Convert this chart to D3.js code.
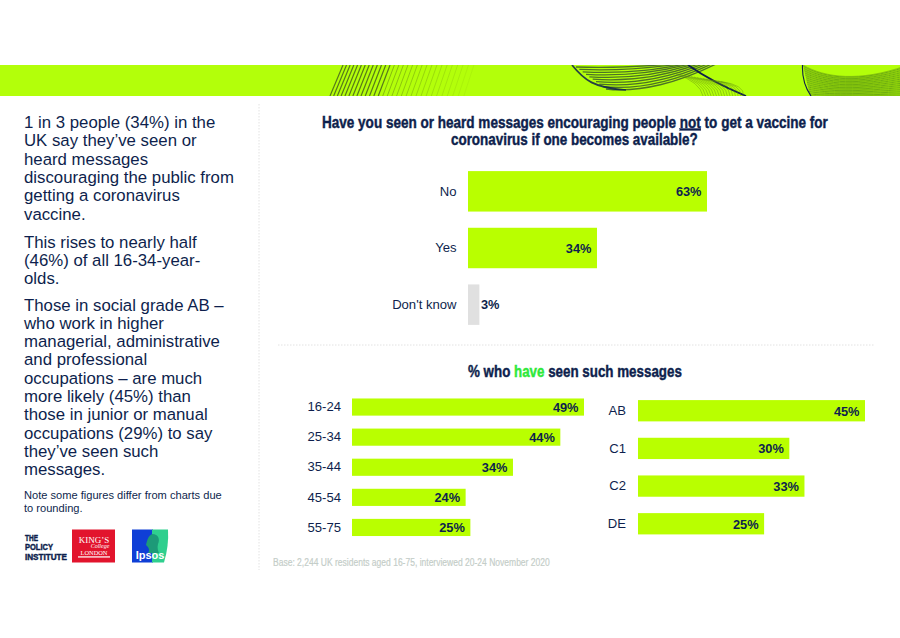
<!DOCTYPE html>
<html><head><meta charset="utf-8">
<script src="https://cdn.jsdelivr.net/npm/d3@7"></script>
<style>html,body{margin:0;padding:0;background:#fff}svg{display:block}</style>
</head><body><div id="c"></div>
<script>
// ---- data ----
const mainCats = ["No","Yes","Don't know"];
const mainVals = [63,34,3];
const ageCats = ["16-24","25-34","35-44","45-54","55-75"];
const ageVals = [49,44,34,24,25];
const gradeCats = ["AB","C1","C2","DE"];
const gradeVals = [45,30,33,25];
const para1 = ["1 in 3 people (34%) in the","UK say they’ve seen or","heard messages","discouraging the public from","getting a coronavirus","vaccine."];
const para2 = ["This rises to nearly half","(46%) of all 16-34-year-","olds."];
const para3 = ["Those in social grade AB –","who work in higher","managerial, administrative","and professional","occupations – are much","more likely (45%) than","those in junior or manual","occupations (29%) to say","they’ve seen such","messages."];
const noteLines = ["Note some figures differ from charts due","to rounding."];
const baseText = "Base: 2,244 UK residents aged 16-75, interviewed 20-24 November 2020";

const NAVY="#0e1f4d", LIME="#b9ff00", GREY="#e0e0e0";
const SANS="'Liberation Sans',Arial,sans-serif", NARROW="'Liberation Sans Narrow','Liberation Sans',sans-serif";
const svg=d3.select("#c").append("svg").attr("width",900).attr("height",638);

// ---- banner ----
svg.append("rect").attr("x",0).attr("y",65).attr("width",900).attr("height",31).attr("fill","#b3ff0a");
svg.append("clipPath").attr("id","bn").append("rect").attr("x",0).attr("y",65).attr("width",900).attr("height",31);
const deco=svg.append("g").attr("clip-path","url(#bn)").attr("fill","none");
d3.range(0,30).forEach(i=>{
  const xt=343+i*3.5+i*i*0.035;
  deco.append("line").attr("x1",xt).attr("y1",65).attr("x2",xt-13+i*0.1).attr("y2",96)
    .attr("stroke",i<13?"#4c6a1c":"#6f9a12").attr("stroke-width",i<13?1.2:0.9).attr("opacity",i<13?0.9:Math.max(0.12,0.75-(i-13)*0.04));
});
d3.range(0,10).forEach(i=>{
  const t=i/9;
  deco.append("path").attr("d",`M${606-30*t},${89-22*t} C${640-10*t},${93-24*t} ${680-20*t},${82-18*t} ${716-40*t},64`)
    .attr("stroke","#3a5a2a").attr("stroke-width",1.3).attr("opacity",0.85);
});
deco.append("path").attr("d","M572,65 C584,80 594,88 626,90").attr("stroke",NAVY).attr("stroke-width",1.7).attr("opacity",.85);
deco.append("path").attr("d","M688,65 Q712,82 746,96").attr("stroke",NAVY).attr("stroke-width",1.8);
d3.range(0,16).forEach(i=>{
  deco.append("path").attr("d",`M${676+i*3},${74+i*.5} Q${700+i*3},${82+i*.2} ${703+i*2.7},96`)
    .attr("stroke","#5f8a12").attr("stroke-width",0.7).attr("opacity",0.6);
});
d3.range(0,28).forEach(i=>{
  const t=i/27;
  deco.append("path").attr("d",`M${803+7*t},${65+31*t} C${825},${78+20*t} ${860},${82+14*t} ${905},${66+30*t}`)
    .attr("stroke",i%2?"#4f8a14":"#78b00c").attr("stroke-width",0.8).attr("opacity",0.85);
});
deco.append("path").attr("d","M802.5,65 C802,76 804,86 811,96").attr("stroke",NAVY).attr("stroke-width",1.1);

// ---- separators ----
const dot={stroke:"#e2e2e2","stroke-width":1,"stroke-dasharray":"1.5 1.5"};
const vs=svg.append("line").attr("x1",259).attr("x2",259).attr("y1",104).attr("y2",570);
const hs=svg.append("line").attr("x1",278).attr("x2",875).attr("y1",345).attr("y2",345);
[vs,hs].forEach(l=>Object.entries(dot).forEach(([k,v])=>l.attr(k,v)));

// ---- left text ----
const left=svg.append("g").attr("font-family",SANS).attr("fill",NAVY);
function block(lines,y0,dy,size){lines.forEach((s,i)=>left.append("text").attr("x",24).attr("y",y0+i*dy).attr("font-size",size).text(s));}
block(para1,128,18.3,16.8);
block(para2,247.6,18.3,16.8);
block(para3,310.5,18.3,16.8);
block(noteLines,499,13,11.1);

// ---- fitted condensed text: scale a text horizontally to a measured width ----
function fitted(cx,y,width,size,parts,opt){
  opt=opt||{};
  const g=svg.append("g");
  const t=g.append("text").attr("font-family",NARROW).attr("font-weight",opt.w||700).attr("font-size",size)
    .attr("fill",opt.fill||NAVY).attr("stroke",opt.nostroke?null:(opt.fill||NAVY)).attr("stroke-width",opt.nostroke?null:(opt.sw||.45));
  parts.forEach(p=>{const s=t.append("tspan").text(p.s);
    if(p.u) s.attr("text-decoration","underline");
    if(p.c) s.attr("fill",p.c).attr("stroke",p.c);});
  const k=width/t.node().getComputedTextLength();
  g.attr("transform",`translate(${cx-width/2},${y}) scale(${k},1)`);
}
fitted(575,127.5,506,17,[{s:"Have you seen or heard messages encouraging people "},{s:"not",u:1},{s:" to get a vaccine for"}]);
fitted(574.5,145,247,17,[{s:"coronavirus if one becomes available?"}]);
fitted(575,377,214,17,[{s:"% who "},{s:"have",c:"#2fe83a"},{s:" seen such messages"}]);
fitted(411.5,566,277,11.5,[{s:baseText}],{w:400,fill:"#c4cdc8",sw:.2});

// ---- bar panels ----
function panel(cats,vals,o){
  const x=d3.scaleLinear().domain([0,o.max]).range([o.x0,o.x1]);
  const y=d3.scaleBand().domain(cats).range([o.y0,o.y1]).paddingInner(o.pad).paddingOuter(o.pad/2);
  const g=svg.append("g");
  const rows=cats.map((c,i)=>({c,v:vals[i]}));
  g.selectAll("rect").data(rows).join("rect")
    .attr("x",x(0)).attr("y",d=>y(d.c)).attr("width",d=>x(d.v)-x(0)).attr("height",y.bandwidth())
    .attr("fill",d=>d.v<=o.greyBelow?GREY:LIME);
  g.selectAll("text.v").data(rows).join("text").attr("class","v")
    .attr("x",d=>d.v<=o.greyBelow?x(d.v)+1.5:x(d.v)-5.5)
    .attr("y",d=>y(d.c)+y.bandwidth()/2+4.8)
    .attr("text-anchor",d=>d.v<=o.greyBelow?"start":"end")
    .attr("font-family",SANS).attr("font-weight",700).attr("font-size",12.8).attr("fill",NAVY)
    .text(d=>d.v+"%");
  const ax=svg.append("g").attr("transform",`translate(${o.x0},0)`).call(d3.axisLeft(y).tickSize(0).tickPadding(o.tp));
  ax.select(".domain").remove();
  ax.selectAll("text").attr("font-family",SANS).attr("font-size",13.1).attr("fill",NAVY);
}
panel(mainCats,mainVals,{max:63,x0:468,x1:707,y0:163,y1:333,pad:.286,greyBelow:5,tp:11.5});
panel(ageCats,ageVals,{max:49,x0:352,x1:584,y0:392,y1:542.5,pad:.43,greyBelow:-1,tp:11});
panel(gradeCats,gradeVals,{max:45,x0:638,x1:865,y0:391.9,y1:542.6,pad:.435,greyBelow:-1,tp:12});

// ---- logos ----
[["THE",540.5,13],["POLICY",550,28],["INSTITUTE",559.5,42]].forEach(([s,y,w])=>fitted(25+w/2,y,w,9,[{s}],{sw:.45}));
const lg=svg.append("g");
lg.append("rect").attr("x",72).attr("y",529.5).attr("width",43).attr("height",33).attr("fill","#e2142d");
lg.append("text").attr("x",94).attr("y",542.5).attr("text-anchor","middle").attr("font-family","'Liberation Serif',serif").attr("font-size",9).attr("fill","#fff").text("KING’S");
lg.append("text").attr("x",100).attr("y",548.3).attr("text-anchor","middle").attr("font-family","'Liberation Serif',serif").attr("font-size",6).attr("font-style","italic").attr("fill","#fff").text("College");
lg.append("text").attr("x",94).attr("y",554.6).attr("text-anchor","middle").attr("font-family","'Liberation Serif',serif").attr("font-size",6.4).attr("fill","#fff").text("LONDON");
lg.append("rect").attr("x",78).attr("y",556).attr("width",32).attr("height",1.8).attr("fill","#f6b6bd");
lg.append("rect").attr("x",132).attr("y",529.5).attr("width",21).attr("height",33).attr("fill","#0f3fd6");
lg.append("path").attr("d","M152,529.5H168Q169,546 164,562.5H152Z").attr("fill","#2fcf8e");
lg.append("path").attr("d","M152,534C159,534 160,540 158,544C157,548 158,551 159,553H148C150,550 149,548 146,545C147,541 148,536 152,534Z").attr("fill","#1d9a78");
lg.append("text").attr("x",150).attr("y",559).attr("text-anchor","middle").attr("font-family",SANS).attr("font-weight",700).attr("font-size",11).attr("fill","#fff").text("Ipsos");
</script></body></html>
